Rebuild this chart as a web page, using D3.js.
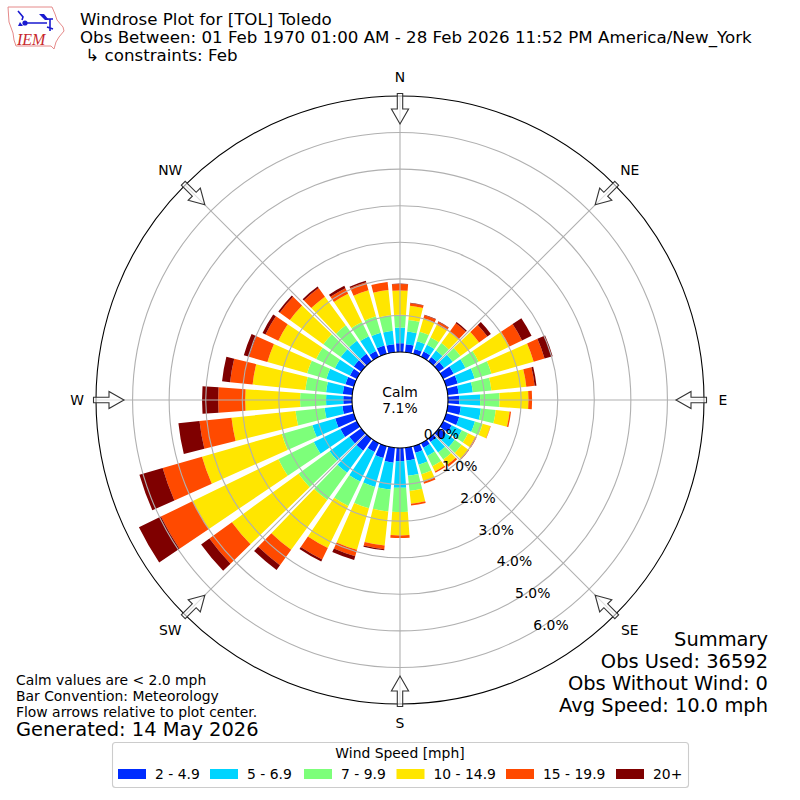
<!DOCTYPE html>
<html>
<head>
<meta charset="utf-8">
<script src="https://cdn.jsdelivr.net/npm/d3@7"></script>
<style>
  html, body { margin: 0; padding: 0; background: #fff; }
  svg { display: block; }
  text { font-family: "DejaVu Sans", sans-serif; fill: #000; }
</style>
</head>
<body>
<svg id="chart" width="800" height="800"></svg>
<script>
// direction bars, bearing of each bar (degrees)
const bearings = [10,20,30,40,50,60,70,80,90,100,110,120,130,140,150,160,170,180,
                  190,200,210,220,230,240,250,260,270,280,290,300,310,320,330,340,350,360];
const speedBins = ["2 - 4.9", "5 - 6.9", "7 - 9.9", "10 - 14.9", "15 - 19.9", "20+"];
const binColors = ["#002cff", "#00d4ff", "#7dff7a", "#ffe600", "#ff4a00", "#7f0000"];

// percent of obs per direction, one list per speed bin
const bin2to5 = [.22,.14,.16,.14,.18,.32,.33,.30,.31,.36,.37,.26,.24,.11,.14,.19,.35,.36,
                 .41,.34,.27,.40,.40,.50,.53,.27,.24,.26,.24,.21,.25,.25,.18,.24,.22,.24];
const bin5to7 = [.35,.22,.21,.22,.29,.36,.48,.39,.57,.55,.45,.31,.30,.35,.25,.34,.42,.73,
                 .74,.82,.90,.75,.67,.81,.65,.49,.47,.46,.54,.46,.44,.44,.45,.36,.37,.43];
const bin7to10 = [.32,.27,.22,.25,.26,.40,.48,.51,.53,.41,.22,.19,.23,.24,.31,.27,.42,.66,
                  .60,.61,.74,.92,1.05,1.08,.87,.80,.71,.57,.55,.57,.59,.52,.43,.47,.43,.35];
const bin10to15 = [.39,.38,.39,.38,.63,.94,1.20,.96,.79,.38,.22,.22,.22,.18,.16,.21,.35,.64,
                   .94,1.18,1.28,1.68,2.25,2.60,2.27,1.76,1.50,1.45,1.13,1.15,1.13,.97,.86,.74,.69,.66];
const bin15to20 = [.07,.09,.09,.29,.28,.38,.31,.23,.10,.04,.01,.04,.03,.06,.04,.06,.05,.07,
                   .10,.18,.35,.52,.76,.97,1.12,.88,.74,.62,.52,.39,.34,.29,.17,.23,.22,.18];
const bin20plus = [.01,.01,.01,.04,.12,.29,.23,.05,0,0,0,0,0,0,0,0,0,0,
                   .03,.11,.06,.16,.28,.67,.66,.58,.44,.22,.15,.09,.05,.05,.07,.04,0,.01];
const binValues = [bin2to5, bin5to7, bin7to10, bin10to15, bin15to20, bin20plus];

const ringTicks = [0, 1, 2, 3, 4, 5, 6];
const ringLabels = ["0.0%", "1.0%", "2.0%", "3.0%", "4.0%", "5.0%", "6.0%"];
const compassNames = ["N", "NE", "E", "SE", "S", "SW", "W", "NW"];
const compassAngles = [0, 45, 90, 135, 180, 225, 270, 315];

const titleLines = [
  "Windrose Plot for [TOL] Toledo",
  "Obs Between: 01 Feb 1970 01:00 AM - 28 Feb 2026 11:52 PM America/New_York",
  " \u21b3 constraints: Feb"
];
const noteLines = ["Calm values are < 2.0 mph", "Bar Convention: Meteorology", "Flow arrows relative to plot center."];
const summaryLines = ["Summary", "Obs Used: 36592", "Obs Without Wind: 0", "Avg Speed: 10.0 mph"];

const svg = d3.select("#chart");
const cx = 400, cy = 400;
const innerR = 48, outerR = 304;
const barWidth = 8 * Math.PI / 180;
const rad = d => d * Math.PI / 180;

const rScale = d3.scaleLinear().domain([0, 7]).range([innerR, outerR]);

const plot = svg.append("g").attr("transform", `translate(${cx},${cy})`);

// stacked bars
const rows = bearings.map((b, i) => {
  const row = { bearing: b };
  speedBins.forEach((s, j) => { row[s] = binValues[j][i]; });
  return row;
});
const stacked = d3.stack().keys(speedBins)(rows);
const arc = d3.arc();

plot.selectAll(".layer")
  .data(stacked)
  .enter()
  .append("g")
  .attr("class", "layer")
  .attr("fill", (d, i) => binColors[i])
  .selectAll("path")
  .data(d => d)
  .enter()
  .append("path")
  .attr("d", d => arc({
    innerRadius: rScale(d[0]),
    outerRadius: rScale(d[1]),
    startAngle: rad(d.data.bearing) - barWidth / 2,
    endAngle: rad(d.data.bearing) + barWidth / 2
  }));

// grid goes over the bars
plot.selectAll(".ring")
  .data(ringTicks.slice(1))
  .enter()
  .append("circle")
  .attr("r", d => rScale(d))
  .attr("fill", "none")
  .attr("stroke", "#b0b0b0")
  .attr("stroke-width", 1.1);

plot.selectAll(".spoke")
  .data(compassAngles)
  .enter()
  .append("line")
  .attr("x1", d => innerR * Math.sin(rad(d)))
  .attr("y1", d => -innerR * Math.cos(rad(d)))
  .attr("x2", d => outerR * Math.sin(rad(d)))
  .attr("y2", d => -outerR * Math.cos(rad(d)))
  .attr("stroke", "#b0b0b0")
  .attr("stroke-width", 1.1);

plot.selectAll(".spine")
  .data([innerR, outerR])
  .enter()
  .append("circle")
  .attr("r", d => d)
  .attr("fill", "none")
  .attr("stroke", "#000")
  .attr("stroke-width", 1.1);

// hollow flow arrows on the rim
const arrowShape = "M-2.7,-306.5 L2.7,-306.5 L2.7,-291 L8.6,-291 L0,-276 L-8.6,-291 L-2.7,-291 Z";
plot.selectAll(".arrow")
  .data(compassAngles)
  .enter()
  .append("path")
  .attr("d", arrowShape)
  .attr("transform", d => `rotate(${d})`)
  .attr("fill", "#fff")
  .attr("fill-opacity", 0.6)
  .attr("stroke", "#333")
  .attr("stroke-width", 1.1);

// compass labels
const labelR = d => (d % 90 === 0 ? 323 : 325);
plot.selectAll(".compass")
  .data(compassAngles)
  .enter()
  .append("text")
  .attr("x", d => labelR(d) * Math.sin(rad(d)))
  .attr("y", d => -labelR(d) * Math.cos(rad(d)))
  .attr("text-anchor", "middle")
  .attr("dominant-baseline", "central")
  .style("font-size", "13.9px")
  .text((d, i) => compassNames[i]);

// ring labels sit along the SE spoke, offset by the figure transform
plot.selectAll(".ringLabel")
  .data(ringTicks)
  .enter()
  .append("text")
  .attr("x", d => 0.7071 * rScale(d) + 7.5 - d * 7.6)
  .attr("y", d => 0.7071 * rScale(d) + 0.5 + d * 5.9)
  .attr("text-anchor", "middle")
  .attr("dominant-baseline", "central")
  .style("font-size", "13.9px")
  .text((d, i) => ringLabels[i]);

plot.append("text").attr("x", 0).attr("y", -8).attr("text-anchor", "middle")
  .attr("dominant-baseline", "central").style("font-size", "13.9px").text("Calm");
plot.append("text").attr("x", 0).attr("y", 8).attr("text-anchor", "middle")
  .attr("dominant-baseline", "central").style("font-size", "13.9px").text("7.1%");

// header
svg.selectAll(".title")
  .data(titleLines)
  .enter()
  .append("text")
  .attr("x", 80)
  .attr("y", (d, i) => 25 + i * 18)
  .attr("xml:space", "preserve")
  .style("white-space", "pre")
  .style("font-size", "16.67px")
  .text(d => d);

// bottom notes
svg.selectAll(".note")
  .data(noteLines)
  .enter()
  .append("text")
  .attr("x", 16)
  .attr("y", (d, i) => 685 + i * 16)
  .style("font-size", "13.9px")
  .text(d => d);
svg.append("text").attr("x", 16).attr("y", 736).style("font-size", "19.44px").text("Generated: 14 May 2026");

svg.selectAll(".summary")
  .data(summaryLines)
  .enter()
  .append("text")
  .attr("x", 768)
  .attr("y", (d, i) => 646 + i * 22)
  .attr("text-anchor", "end")
  .style("font-size", "19.44px")
  .text(d => d);

// legend
svg.append("rect")
  .attr("x", 112.5).attr("y", 742.5).attr("width", 576).attr("height", 45)
  .attr("rx", 3).attr("fill", "#fff").attr("stroke", "#ccc").attr("stroke-width", 1.1);
svg.append("text").attr("x", 400).attr("y", 758).attr("text-anchor", "middle")
  .style("font-size", "13.9px").text("Wind Speed [mph]");
const swatchX = [118, 210, 304, 396.5, 506, 616];
const legend = svg.selectAll(".legendItem")
  .data(speedBins)
  .enter()
  .append("g")
  .attr("transform", (d, i) => `translate(${swatchX[i]},769)`);
legend.append("rect").attr("width", 28).attr("height", 10).attr("fill", (d, i) => binColors[i]);
legend.append("text").attr("x", 37).attr("y", 10).style("font-size", "13.9px").text(d => d);

// IEM logo
const logo = svg.append("g");
logo.append("path")
  .attr("d", "M8,7 L52,7 L55,14 L57,20 L63,27 L64,31 L59,37 L56,42 L54,49 L51,46 L16,46 L14,40 L13,33 L9,22 Z")
  .attr("fill", "none").attr("stroke", "#e58a8a").attr("stroke-width", 1);
logo.append("circle").attr("cx", 25).attr("cy", 23).attr("r", 2.6).attr("fill", "#1a1ad0");
logo.append("path").attr("d", "M25,23 L47,23 M18,11 L23,17 L22,20 M46,19 L53,19 M50,19 L50,31 M47,27 L53,29")
  .attr("fill", "none").attr("stroke", "#1a1ad0").attr("stroke-width", 1.6);
logo.append("path").attr("d", "M39,14 L44,14 L49,20 L45,20 Z M18,26 L20,22 L23,26 Z").attr("fill", "#1a1ad0");
logo.append("text").attr("x", 17).attr("y", 45)
  .style("font-family", "'Liberation Serif', serif").style("font-style", "italic")
  .style("font-size", "16px").style("fill", "#c8282d").text("IEM");
</script>
</body>
</html>
